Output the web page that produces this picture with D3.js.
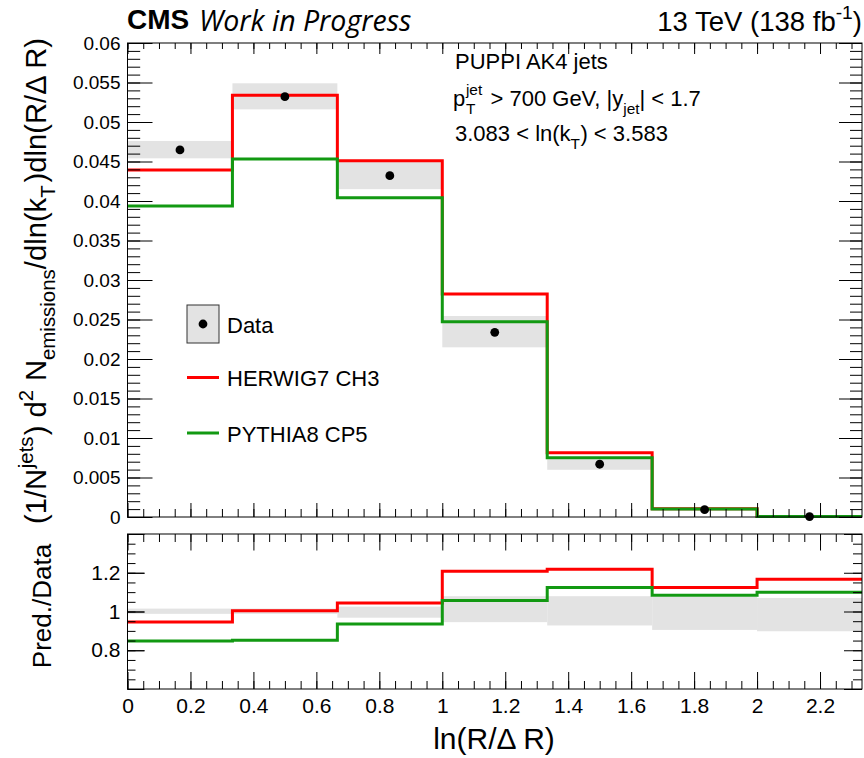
<!DOCTYPE html>
<html>
<head>
<meta charset="utf-8">
<script src="https://cdn.jsdelivr.net/npm/d3@7/dist/d3.min.js"></script>
<style>
  html, body { margin: 0; padding: 0; background: #fff; }
  svg { display: block; }
  text { font-family: "Liberation Sans", Arial, Helvetica, sans-serif; fill: #000; white-space: pre; }
</style>
</head>
<body>
<svg id="chart" width="864" height="758"></svg>
<script>
// ln(R/ΔR) bin edges (7 bins of width 1/3)
const binEdges = [0, 1/3, 2/3, 1, 4/3, 5/3, 2, 7/3];

// Unfolded data and its uncertainty band
const dataValues  = [0.04646, 0.0532, 0.0432, 0.02338, 0.00668, 0.00093, 0.00006];
const dataBandLow  = [0.0454, 0.0516, 0.0415, 0.02148, 0.00598, 0.00084, 0.00005];
const dataBandHigh = [0.0476, 0.0549, 0.0452, 0.02544, 0.00730, 0.00102, 0.00007];

// Generator predictions
const herwigValues = [0.04392, 0.05338, 0.0451, 0.02823, 0.00814, 0.001045, 0.00007];
const pythiaValues = [0.03937, 0.04532, 0.04042, 0.02472, 0.00751, 0.001008, 0.000066];

// Relative data uncertainty shown in the ratio panel
const ratioBandLow  = [0.988, 0.988, 0.968, 0.945, 0.928, 0.905, 0.898];
const ratioBandHigh = [1.015, 1.015, 1.025, 1.079, 1.079, 1.075, 1.070];

// Tick values
const mainYTicks  = d3.range(0, 0.0601, 0.005);
const mainYMinor  = d3.range(0, 0.0601, 0.001);
const xTicks      = d3.range(0, 2.21, 0.2);
const xMinor      = d3.range(0, 2.34, 0.05);
const ratioYTicks = [0.8, 1.0, 1.2];
const ratioYMajor = [0.6, 0.8, 1.0, 1.2, 1.4];
const ratioYMinor = d3.range(0.6, 1.401, 0.05);

const RED = "#ff0000";
const GREEN = "#129912";
const BAND = "#e3e3e3";

const svg = d3.select("#chart");

const L = 127.5, R = 862;
const mainTop = 43, mainBot = 517;
const ratTop = 534, ratBot = 689;

const x = d3.scaleLinear().domain([0, 7/3]).range([L, R]);
const y = d3.scaleLinear().domain([0, 0.06]).range([mainBot, mainTop]);
const yr = d3.scaleLinear().domain([0.6, 1.4]).range([ratBot, ratTop]);

const bins = dataValues.map((v, i) => ({ i, x0: binEdges[i], x1: binEdges[i + 1] }));

// ---------- main panel ----------
const main = svg.append("g");

main.selectAll("rect.band").data(bins).join("rect")
  .attr("class", "band")
  .attr("x", d => x(d.x0)).attr("width", d => x(d.x1) - x(d.x0))
  .attr("y", d => y(dataBandHigh[d.i]))
  .attr("height", d => y(dataBandLow[d.i]) - y(dataBandHigh[d.i]))
  .attr("fill", BAND);

function stepPoints(vals) {
  return binEdges.map((e, i) => [e, vals[Math.min(i, vals.length - 1)]]);
}
const mainLine = d3.line().x(d => x(d[0])).y(d => y(d[1])).curve(d3.curveStepAfter);

main.append("path").attr("d", mainLine(stepPoints(herwigValues)))
  .attr("fill", "none").attr("stroke", RED).attr("stroke-width", 3);
main.append("path").attr("d", mainLine(stepPoints(pythiaValues)))
  .attr("fill", "none").attr("stroke", GREEN).attr("stroke-width", 3);

main.selectAll("circle.pt").data(bins).join("circle")
  .attr("class", "pt")
  .attr("cx", d => x((d.x0 + d.x1) / 2))
  .attr("cy", d => y(dataValues[d.i]))
  .attr("r", 4.4).attr("fill", "#000");

// ---------- ratio panel ----------
const rat = svg.append("g");
rat.selectAll("rect.band").data(bins).join("rect")
  .attr("class", "band")
  .attr("x", d => x(d.x0)).attr("width", d => x(d.x1) - x(d.x0))
  .attr("y", d => yr(ratioBandHigh[d.i]))
  .attr("height", d => yr(ratioBandLow[d.i]) - yr(ratioBandHigh[d.i]))
  .attr("fill", BAND);

const ratLine = d3.line().x(d => x(d[0])).y(d => yr(d[1])).curve(d3.curveStepAfter);
const herwigRatio = herwigValues.map((v, i) => v / dataValues[i]);
const pythiaRatio = pythiaValues.map((v, i) => v / dataValues[i]);
rat.append("path").attr("d", ratLine(stepPoints(herwigRatio)))
  .attr("fill", "none").attr("stroke", RED).attr("stroke-width", 3);
rat.append("path").attr("d", ratLine(stepPoints(pythiaRatio)))
  .attr("fill", "none").attr("stroke", GREEN).attr("stroke-width", 3);

// ---------- axes (inward ticks on all four sides) ----------
function addAxis(gen, tx, ty, values, size, labels, fmt, pad, fs) {
  const a = gen.tickValues(values).tickSizeInner(-size).tickSizeOuter(0)
    .tickPadding(pad || 6).tickFormat(labels ? fmt : () => "");
  const g = svg.append("g").attr("transform", `translate(${tx},${ty})`).call(a);
  g.select(".domain").remove();
  g.selectAll("line").attr("stroke", "#000").attr("stroke-width", 1);
  g.selectAll("text").attr("font-family", null).attr("font-size", fs || 19).attr("fill", "#000");
  return g;
}
const fmtY = v => String(+v.toFixed(3));
const fmtX = v => String(+v.toFixed(1));

// main panel
addAxis(d3.axisLeft(y), L, 0, mainYMinor, 12.7, false);
addAxis(d3.axisLeft(y), L, 0, mainYTicks, 25, true, fmtY, 7, 19);
addAxis(d3.axisRight(y), R, 0, mainYMinor, 12, false);
addAxis(d3.axisRight(y), R, 0, mainYTicks, 23, false);
addAxis(d3.axisTop(x), 0, mainTop, xMinor, 6, false);
addAxis(d3.axisTop(x), 0, mainTop, xTicks, 11, false);
addAxis(d3.axisBottom(x), 0, mainBot, xMinor, 8, false);
addAxis(d3.axisBottom(x), 0, mainBot, xTicks, 14, false);

// ratio panel
addAxis(d3.axisLeft(yr), L, 0, ratioYMinor, 8, false);
addAxis(d3.axisLeft(yr), L, 0, ratioYMajor, 17, false);
addAxis(d3.axisLeft(yr), L, 0, ratioYTicks, 17, true, fmtX, 7, 21);
addAxis(d3.axisRight(yr), R, 0, ratioYMinor, 9, false);
addAxis(d3.axisRight(yr), R, 0, ratioYMajor, 18, false);
addAxis(d3.axisTop(x), 0, ratTop, xMinor, 8, false);
addAxis(d3.axisTop(x), 0, ratTop, xTicks, 16.5, false);
addAxis(d3.axisBottom(x), 0, ratBot, xMinor, 8, false);
addAxis(d3.axisBottom(x), 0, ratBot, xTicks, 17, true, fmtX, 9, 21);

// frames
svg.append("rect").attr("x", L).attr("y", mainTop).attr("width", R - L).attr("height", mainBot - mainTop)
  .attr("fill", "none").attr("stroke", "#000").attr("stroke-width", 1);
svg.append("rect").attr("x", L).attr("y", ratTop).attr("width", R - L).attr("height", ratBot - ratTop)
  .attr("fill", "none").attr("stroke", "#000").attr("stroke-width", 1);

// ---------- rich text helper (sub/superscripts placed piece by piece) ----------
function rich(parent, parts, fs) {
  const g = parent.append("g");
  let cx = 0;
  for (const p of parts) {
    const items = p.stack ? p.stack : [p];
    let adv = 0;
    for (const it of items) {
      const sz = fs * (it.scale || 1);
      const t = g.append("text")
        .attr("x", cx + (it.pre || 0) * fs)
        .attr("y", (it.dy || 0) * fs)
        .attr("font-size", sz)
        .text(it.t);
      adv = Math.max(adv, t.node().getComputedTextLength() + ((it.pre || 0) + (it.post || 0)) * fs);
    }
    cx += adv;
  }
  return { g, width: cx };
}
const sup = (t, extra) => Object.assign({ t, scale: 0.7, dy: -0.42 }, extra || {});
const sub = (t, extra) => Object.assign({ t, scale: 0.7, dy: 0.3 }, extra || {});

// header
svg.append("text").attr("x", 127).attr("y", 29).attr("font-size", 28).attr("font-weight", "bold").text("CMS");
svg.append("text").attr("x", 199).attr("y", 31).attr("font-size", 28.5)
  .style("font-family", "'Open Sans', sans-serif").style("font-style", "italic").text("Work in Progress");

{
  const r = rich(svg, [{ t: "13 TeV (138 fb" }, sup("-1", { dy: -0.45 }), { t: ")" }], 27.5);
  r.g.attr("transform", `translate(${862 - r.width},31)`);
}

// annotations
svg.append("text").attr("x", 455).attr("y", 69).attr("font-size", 22).text("PUPPI AK4 jets");
{
  const r = rich(svg, [
    { t: "p" },
    { stack: [sup("jet", { dy: -0.5, pre: 0.03 }), sub("T", { dy: 0.35, pre: 0.03 })] },
    { t: " > 700 GeV, |y", pre: 0.1 },
    sub("jet", { dy: 0.35 }),
    { t: "| < 1.7" }
  ], 22);
  r.g.attr("transform", "translate(453,106)");
}
{
  const r = rich(svg, [
    { t: "3.083 < ln(k" },
    sub("T", { dy: 0.35 }),
    { t: ") < 3.583", pre: 0.02 }
  ], 22);
  r.g.attr("transform", "translate(455,141)");
}

// legend
svg.append("rect").attr("x", 187).attr("y", 305).attr("width", 32).attr("height", 38)
  .attr("fill", BAND).attr("stroke", "#333").attr("stroke-width", 1);
svg.append("circle").attr("cx", 203).attr("cy", 324).attr("r", 4.4).attr("fill", "#000");
svg.append("text").attr("x", 227).attr("y", 333).attr("font-size", 22).text("Data");
svg.append("line").attr("x1", 187).attr("x2", 219).attr("y1", 377.5).attr("y2", 377.5)
  .attr("stroke", RED).attr("stroke-width", 3);
svg.append("text").attr("x", 227).attr("y", 386).attr("font-size", 22).text("HERWIG7 CH3");
svg.append("line").attr("x1", 187).attr("x2", 219).attr("y1", 433).attr("y2", 433)
  .attr("stroke", GREEN).attr("stroke-width", 3);
svg.append("text").attr("x", 227).attr("y", 442).attr("font-size", 22).text("PYTHIA8 CP5");

// axis titles
svg.append("text").attr("x", 494).attr("y", 749).attr("font-size", 30)
  .attr("text-anchor", "middle").text("ln(R/\u0394 R)");

svg.append("text").attr("transform", "translate(51,606) rotate(-90)")
  .attr("font-size", 26).attr("text-anchor", "middle").text("Pred./Data");

{
  const F = 29.2;
  const r = rich(svg, [
    { t: "(1/N" },
    sup("jets", { dy: -0.45, pre: 0.02 }),
    { t: ") d", pre: 0.04 },
    sup("2", { dy: -0.45 }),
    { t: " N", pre: 0.02 },
    sub("emissions", { dy: 0.3 }),
    { t: "/dln(k" },
    sub("T", { dy: 0.3 }),
    { t: ")dln(R/\u0394 R)", pre: 0.1 }
  ], F);
  r.g.attr("transform", `translate(46,38) rotate(-90) translate(${-r.width},0)`);
}
</script>
</body>
</html>
